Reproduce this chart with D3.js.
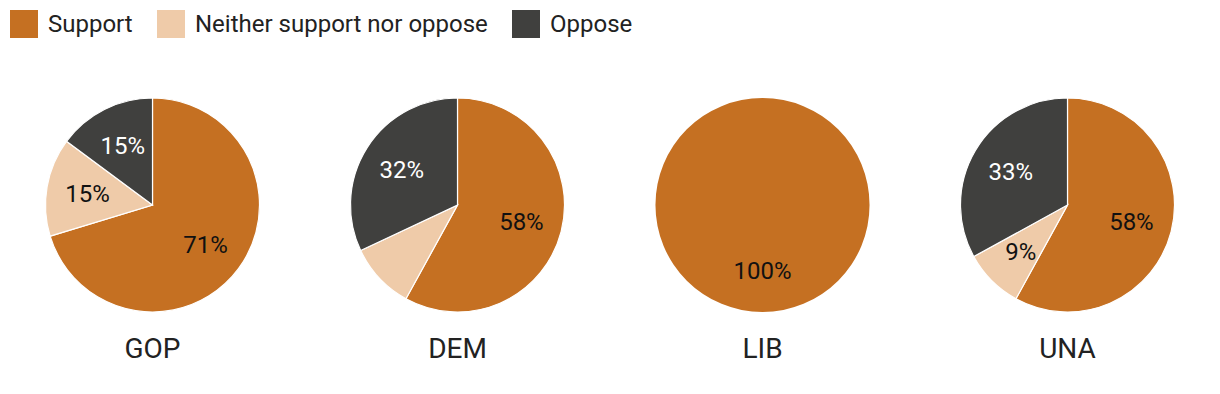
<!DOCTYPE html>
<html>
<head>
<meta charset="utf-8">
<script src="https://cdn.jsdelivr.net/npm/d3@7"></script>
<style>
  body { margin: 0; background: #fff; font-family: Roboto, sans-serif; }
</style>
</head>
<body>
<svg id="chart" width="1220" height="394"></svg>
<script>
// data
var parties = ["GOP", "DEM", "LIB", "UNA"];
var answers = ["Support", "Neither support nor oppose", "Oppose"];
var support = [71, 58, 100, 58];
var neither = [15, 10, 0, 9];
var oppose = [15, 32, 0, 33];
// which slice labels the original prints (DEM's middle one is left off)
var showNeither = [true, false, false, true];

var colors = ["#c57022", "#efcba9", "#40403e"];
var textColors = ["#111", "#111", "#fff"];

var svg = d3.select("#chart");

var color = d3.scaleOrdinal().domain(answers).range(colors);
var textColor = d3.scaleOrdinal().domain(answers).range(textColors);

// legend
var legendX = [10, 157, 512];
var legend = svg.selectAll("g.leg")
  .data(answers)
  .enter().append("g")
  .attr("class", "leg")
  .attr("transform", (d, i) => "translate(" + legendX[i] + ",10)");
legend.append("rect")
  .attr("width", 28).attr("height", 28)
  .style("fill", d => color(d));
legend.append("text")
  .attr("x", 38).attr("y", 22)
  .style("font-size", "24px")
  .style("fill", "#222")
  .text(d => d);

// one pie per party
var x = d3.scaleBand().domain(parties).range([0, 1220]);
var r = 107;
var cy = 205;

var pie = d3.pie().sort(null).value(d => d.value);
var arc = d3.arc().innerRadius(0).outerRadius(r);
var labelArc = d3.arc().innerRadius(66).outerRadius(66);

parties.forEach(function(p, i) {
  var rows = [
    { key: answers[0], value: support[i], show: true },
    { key: answers[1], value: neither[i], show: showNeither[i] },
    { key: answers[2], value: oppose[i], show: true }
  ];
  var g = svg.append("g")
    .attr("transform", "translate(" + (x(p) + x.bandwidth() / 2) + "," + cy + ")");

  var arcs = pie(rows).filter(d => d.data.value > 0);

  g.selectAll("path")
    .data(arcs)
    .enter().append("path")
    .attr("d", arc)
    .style("fill", d => color(d.data.key))
    .style("stroke", arcs.length > 1 ? "#fff" : "none")
    .style("stroke-width", 1.2);

  g.selectAll("text.val")
    .data(arcs.filter(d => d.data.show))
    .enter().append("text")
    .attr("class", "val")
    .attr("transform", d => "translate(" + labelArc.centroid(d) + ")")
    .attr("text-anchor", "middle")
    .attr("dy", "0.35em")
    .style("font-size", "24px")
    .style("fill", d => textColor(d.data.key))
    .text(d => d.data.value + "%");

  g.append("text")
    .attr("y", 143)
    .attr("dy", "0.35em")
    .attr("text-anchor", "middle")
    .style("font-size", "28px")
    .style("fill", "#222")
    .text(p);
});
</script>
</body>
</html>
